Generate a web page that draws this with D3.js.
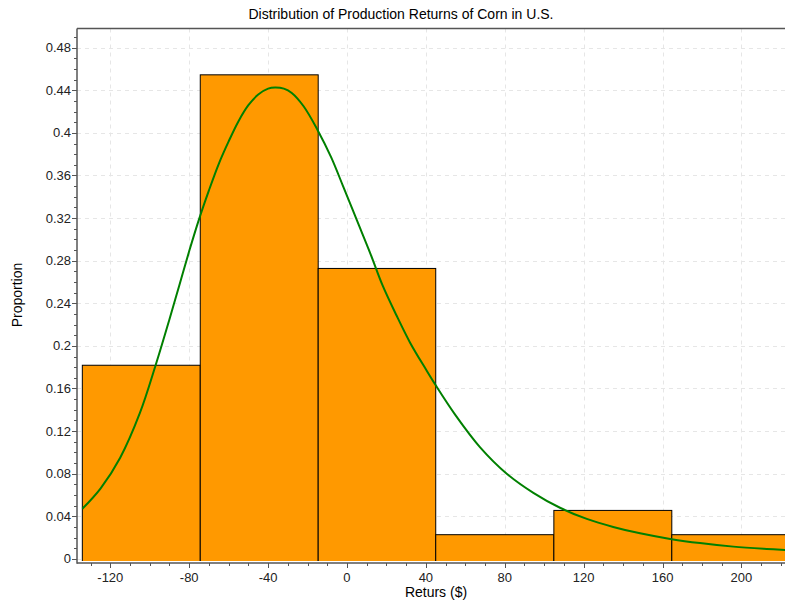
<!DOCTYPE html>
<html><head><meta charset="utf-8">
<script src="https://cdn.jsdelivr.net/npm/d3@7"></script>
<style>
html,body{margin:0;padding:0;background:#fff;}
svg{display:block;font-family:"Liberation Sans",Arial,sans-serif;}
</style></head>
<body><svg id="chart" width="785" height="606"></svg>
<script>
// Histogram bins (edges in $) and proportions
const binEdges = [-134.2, -74.4, -14.6, 45.0, 104.9, 164.7, 224.5];
const proportions = [0.1818, 0.4545, 0.2727, 0.0227, 0.0455, 0.0227];
// Fitted density curve
const curveX = [-134.2, -125, -115, -105, -97, -90, -85, -80, -75, -70, -65, -60, -55, -50, -45, -40, -36.5, -32, -28, -22, -15, -8, -2, 5, 12, 18, 25, 32, 40, 45, 55, 67.4, 81, 94.5, 108, 121.6, 135, 148.6, 164.6, 179, 195.9, 212.8, 222.5];
const curveY = [0.047, 0.066, 0.095, 0.137, 0.182, 0.225, 0.257, 0.289, 0.319, 0.346, 0.371, 0.392, 0.411, 0.426, 0.436, 0.4415, 0.4426, 0.4415, 0.4375, 0.425, 0.403, 0.377, 0.350, 0.318, 0.286, 0.257, 0.229, 0.203, 0.178, 0.163, 0.135, 0.105, 0.080, 0.062, 0.048, 0.0375, 0.030, 0.024, 0.0185, 0.0148, 0.0115, 0.0093, 0.0083];
const xTickValues = [-120, -80, -40, 0, 40, 80, 120, 160, 200];
const xTickLabels = ["-120", "-80", "-40", "0", "40", "80", "120", "160", "200"];
const yTickValues = [0, 0.04, 0.08, 0.12, 0.16, 0.2, 0.24, 0.28, 0.32, 0.36, 0.4, 0.44, 0.48];
const yTickLabels = ["0", "0.04", "0.08", "0.12", "0.16", "0.2", "0.24", "0.28", "0.32", "0.36", "0.4", "0.44", "0.48"];
const titleText = "Distribution of Production Returns of Corn in U.S.";
const xTitle = "Returs ($)";
const yTitle = "Proportion";

const svg = d3.select("#chart");
const L = 77, R = 785, T = 28.5, B = 561;
const x = d3.scaleLinear().domain([-136.9, 222.1]).range([L, R]);
const y = d3.scaleLinear().domain([-0.002, 0.498]).range([B, T]);

svg.append("defs").append("clipPath").attr("id","clip")
  .append("rect").attr("x",L).attr("y",T).attr("width",R-L).attr("height",B-T);

// grid
const grid = svg.append("g").attr("stroke","#e6e6e6").attr("stroke-dasharray","4,4").attr("stroke-width",1);
grid.selectAll("line.v").data(xTickValues).join("line")
  .attr("x1",d=>Math.round(x(d))+0.5).attr("x2",d=>Math.round(x(d))+0.5).attr("y1",T).attr("y2",B);
grid.selectAll("line.h").data(yTickValues).join("line")
  .attr("y1",d=>Math.round(y(d))+0.5).attr("y2",d=>Math.round(y(d))+0.5).attr("x1",L).attr("x2",R);

const plot = svg.append("g").attr("clip-path","url(#clip)");
const bins = proportions.map((p,i)=>({x0:binEdges[i], x1:binEdges[i+1], p}));
plot.selectAll("rect.bar").data(bins).join("rect")
  .attr("x",d=>x(d.x0)).attr("width",d=>x(d.x1)-x(d.x0))
  .attr("y",d=>y(d.p)).attr("height",d=>y(0)-y(d.p)+3)
  .attr("fill","#FF9900").attr("stroke","#000").attr("stroke-width",1);

const line = d3.line().x(d=>x(d[0])).y(d=>y(d[1])).curve(d3.curveCatmullRom.alpha(0.5));
plot.append("path").datum(curveX.map((v,i)=>[v,curveY[i]]))
  .attr("d",line).attr("fill","none").attr("stroke","#008000").attr("stroke-width",2);

// frame top
svg.append("line").attr("x1",L).attr("x2",R).attr("y1",T).attr("y2",T).attr("stroke","#555").attr("stroke-width",1.5);

// x axis
const xAxisY = 563;
const xa = svg.append("g");
xa.append("line").attr("x1",L).attr("x2",R).attr("y1",xAxisY).attr("y2",xAxisY).attr("stroke","#555").attr("stroke-width",1.5);
const xMinor = d3.range(-130, 230, 10).filter(v=>x(v)>=L && x(v)<=R);
xa.selectAll("line.mn").data(xMinor).join("line")
  .attr("x1",d=>Math.round(x(d))+0.5).attr("x2",d=>Math.round(x(d))+0.5)
  .attr("y1",xAxisY).attr("y2",d=>xAxisY+(xTickValues.includes(d)?5:3)).attr("stroke","#555");
xa.selectAll("text").data(xTickValues).join("text")
  .attr("x",d=>x(d)).attr("y",xAxisY+19).attr("text-anchor","middle")
  .attr("font-size",13).attr("fill","#222").text((d,i)=>xTickLabels[i]);

// y axis
const ya = svg.append("g");
ya.append("line").attr("x1",L).attr("x2",L).attr("y1",T).attr("y2",xAxisY+0.75).attr("stroke","#555").attr("stroke-width",1.5);
const yMinor = d3.range(0, 50, 1).map(k=>k/100);
ya.selectAll("line.mn").data(yMinor).join("line")
  .attr("y1",d=>Math.round(y(d))+0.5).attr("y2",d=>Math.round(y(d))+0.5)
  .attr("x1",L).attr("x2",(d,i)=>L-(i%4===0?5:3)).attr("stroke","#555");
ya.selectAll("text").data(yTickValues).join("text")
  .attr("x",L-6).attr("y",d=>y(d)+4.5).attr("text-anchor","end")
  .attr("font-size",13).attr("fill","#222").text((d,i)=>yTickLabels[i]);

// titles
svg.append("text").attr("x",401).attr("y",19).attr("text-anchor","middle")
  .attr("font-size",14).attr("fill","#000").text(titleText);
svg.append("text").attr("x",436).attr("y",597).attr("text-anchor","middle")
  .attr("font-size",14).attr("fill","#000").text(xTitle);
svg.append("text").attr("transform","translate(22,295) rotate(-90)").attr("text-anchor","middle")
  .attr("font-size",14).attr("fill","#000").text(yTitle);
</script></body></html>
